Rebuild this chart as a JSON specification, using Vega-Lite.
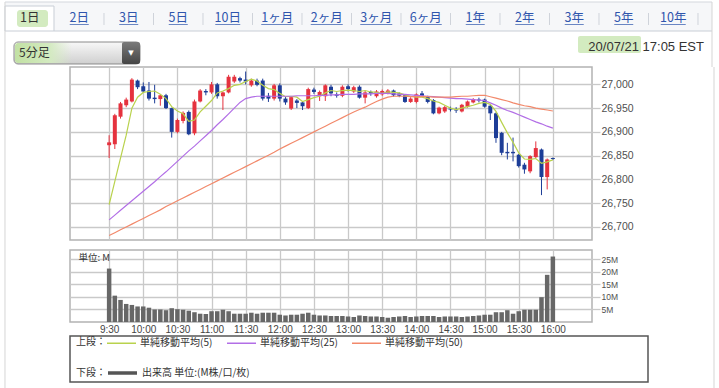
{
 "$schema": "https://vega.github.io/schema/vega-lite/v6.json",
 "padding": 0,
 "background": "#ffffff",
 "spacing": 0,
 "bounds": "flush",
 "config": {
  "view": {"stroke": null},
  "axis": {"labelFont": "Liberation Sans", "labelColor": "#444444", "gridColor": "#c9c9c9", "gridWidth": 1.3, "domain": false},
  "legend": {"padding": 0}
 },
 "resolve": {"scale": {"color": "independent"}, "legend": {"color": "independent"}},
 "datasets": {
  "tabs": [{"tab":"1日"},{"tab":"2日"},{"tab":"3日"},{"tab":"5日"},{"tab":"10日"},{"tab":"1ヶ月"},{"tab":"2ヶ月"},{"tab":"3ヶ月"},{"tab":"6ヶ月"},{"tab":"1年"},{"tab":"2年"},{"tab":"3年"},{"tab":"5年"},{"tab":"10年"}],
  "candles": [
   {"t":"2020-07-21T09:30","o":26872,"h":26893,"l":26845,"c":26878,"v":21.3,"ma5":26747,"ma25":26715,"ma50":26682},
   {"t":"2020-07-21T09:35","o":26874,"h":26938,"l":26864,"c":26935,"v":10.5,"ma5":26796,"ma25":26725,"ma50":26688},
   {"t":"2020-07-21T09:40","o":26932,"h":26963,"l":26928,"c":26960,"v":8.8,"ma5":26845,"ma25":26735,"ma50":26694},
   {"t":"2020-07-21T09:45","o":26956,"h":26972,"l":26952,"c":26968,"v":7.2,"ma5":26893,"ma25":26745,"ma50":26700},
   {"t":"2020-07-21T09:50","o":26964,"h":27013,"l":26962,"c":27010,"v":6.8,"ma5":26950,"ma25":26755,"ma50":26706},
   {"t":"2020-07-21T09:55","o":27008,"h":27010,"l":26990,"c":26994,"v":6.2,"ma5":26973,"ma25":26765,"ma50":26712},
   {"t":"2020-07-21T10:00","o":26996,"h":27004,"l":26982,"c":26985,"v":6.2,"ma5":26983,"ma25":26775,"ma50":26718},
   {"t":"2020-07-21T10:05","o":26987,"h":27005,"l":26966,"c":26970,"v":5.7,"ma5":26985,"ma25":26785,"ma50":26724},
   {"t":"2020-07-21T10:10","o":26972,"h":26999,"l":26960,"c":26969,"v":5.0,"ma5":26986,"ma25":26795,"ma50":26730},
   {"t":"2020-07-21T10:15","o":26969,"h":26979,"l":26955,"c":26977,"v":5.0,"ma5":26979,"ma25":26806,"ma50":26736},
   {"t":"2020-07-21T10:20","o":26977,"h":26980,"l":26948,"c":26950,"v":4.7,"ma5":26970,"ma25":26816,"ma50":26743},
   {"t":"2020-07-21T10:25","o":26950,"h":26951,"l":26888,"c":26900,"v":5.5,"ma5":26953,"ma25":26827,"ma50":26749},
   {"t":"2020-07-21T10:30","o":26900,"h":26928,"l":26897,"c":26925,"v":5.1,"ma5":26944,"ma25":26838,"ma50":26755},
   {"t":"2020-07-21T10:35","o":26923,"h":26943,"l":26918,"c":26940,"v":4.9,"ma5":26938,"ma25":26849,"ma50":26761},
   {"t":"2020-07-21T10:40","o":26942,"h":26945,"l":26893,"c":26895,"v":4.5,"ma5":26922,"ma25":26860,"ma50":26767},
   {"t":"2020-07-21T10:45","o":26897,"h":26968,"l":26893,"c":26964,"v":3.9,"ma5":26925,"ma25":26870,"ma50":26773},
   {"t":"2020-07-21T10:50","o":26964,"h":26990,"l":26962,"c":26987,"v":3.3,"ma5":26942,"ma25":26881,"ma50":26779},
   {"t":"2020-07-21T10:55","o":26986,"h":26990,"l":26977,"c":26983,"v":3.2,"ma5":26954,"ma25":26892,"ma50":26785},
   {"t":"2020-07-21T11:00","o":26983,"h":27005,"l":26980,"c":27000,"v":4.3,"ma5":26966,"ma25":26903,"ma50":26791},
   {"t":"2020-07-21T11:05","o":27000,"h":27003,"l":26970,"c":26975,"v":4.3,"ma5":26982,"ma25":26915,"ma50":26797},
   {"t":"2020-07-21T11:10","o":26975,"h":26985,"l":26946,"c":26983,"v":4.9,"ma5":26986,"ma25":26926,"ma50":26803},
   {"t":"2020-07-21T11:15","o":26983,"h":27020,"l":26981,"c":27016,"v":4.3,"ma5":26991,"ma25":26938,"ma50":26809},
   {"t":"2020-07-21T11:20","o":27006,"h":27020,"l":27003,"c":27016,"v":3.3,"ma5":26998,"ma25":26950,"ma50":26815},
   {"t":"2020-07-21T11:25","o":27013,"h":27016,"l":27004,"c":27008,"v":3.3,"ma5":27000,"ma25":26962,"ma50":26821},
   {"t":"2020-07-21T11:30","o":27010,"h":27027,"l":27000,"c":27006,"v":3.3,"ma5":27006,"ma25":26970,"ma50":26827},
   {"t":"2020-07-21T11:35","o":26998,"h":27012,"l":26995,"c":27008,"v":3.7,"ma5":27011,"ma25":26973,"ma50":26833},
   {"t":"2020-07-21T11:40","o":27008,"h":27012,"l":26996,"c":26999,"v":3.3,"ma5":27007,"ma25":26975,"ma50":26839},
   {"t":"2020-07-21T11:45","o":27008,"h":27012,"l":26966,"c":26970,"v":3.7,"ma5":26998,"ma25":26975,"ma50":26845},
   {"t":"2020-07-21T11:50","o":26976,"h":26982,"l":26963,"c":26970,"v":3.7,"ma5":26991,"ma25":26975,"ma50":26851},
   {"t":"2020-07-21T11:55","o":26970,"h":27001,"l":26966,"c":26998,"v":3.7,"ma5":26989,"ma25":26975,"ma50":26857},
   {"t":"2020-07-21T12:00","o":26998,"h":27002,"l":26964,"c":26970,"v":2.9,"ma5":26981,"ma25":26975,"ma50":26864},
   {"t":"2020-07-21T12:05","o":26970,"h":26974,"l":26957,"c":26962,"v":2.6,"ma5":26974,"ma25":26975,"ma50":26870},
   {"t":"2020-07-21T12:10","o":26949,"h":26975,"l":26946,"c":26973,"v":2.9,"ma5":26975,"ma25":26975,"ma50":26876},
   {"t":"2020-07-21T12:15","o":26966,"h":26969,"l":26950,"c":26961,"v":2.9,"ma5":26973,"ma25":26976,"ma50":26882},
   {"t":"2020-07-21T12:20","o":26962,"h":26965,"l":26946,"c":26954,"v":3.3,"ma5":26964,"ma25":26976,"ma50":26888},
   {"t":"2020-07-21T12:25","o":26950,"h":26993,"l":26948,"c":26990,"v":3.7,"ma5":26968,"ma25":26976,"ma50":26894},
   {"t":"2020-07-21T12:30","o":26989,"h":26993,"l":26980,"c":26984,"v":2.9,"ma5":26972,"ma25":26976,"ma50":26900},
   {"t":"2020-07-21T12:35","o":26975,"h":26987,"l":26965,"c":26984,"v":2.6,"ma5":26975,"ma25":26977,"ma50":26906},
   {"t":"2020-07-21T12:40","o":26975,"h":27000,"l":26965,"c":26998,"v":2.6,"ma5":26982,"ma25":26977,"ma50":26912},
   {"t":"2020-07-21T12:45","o":26995,"h":26999,"l":26975,"c":26981,"v":2.4,"ma5":26987,"ma25":26978,"ma50":26918},
   {"t":"2020-07-21T12:50","o":26979,"h":26983,"l":26972,"c":26976,"v":2.4,"ma5":26985,"ma25":26978,"ma50":26924},
   {"t":"2020-07-21T12:55","o":26976,"h":26998,"l":26973,"c":26995,"v":2.4,"ma5":26987,"ma25":26979,"ma50":26930},
   {"t":"2020-07-21T13:00","o":26996,"h":27000,"l":26985,"c":26990,"v":2.2,"ma5":26988,"ma25":26979,"ma50":26936},
   {"t":"2020-07-21T13:05","o":26985,"h":26997,"l":26982,"c":26994,"v":2.0,"ma5":26987,"ma25":26979,"ma50":26942},
   {"t":"2020-07-21T13:10","o":26995,"h":26998,"l":26970,"c":26972,"v":2.6,"ma5":26985,"ma25":26980,"ma50":26947},
   {"t":"2020-07-21T13:15","o":26972,"h":26986,"l":26960,"c":26983,"v":2.4,"ma5":26987,"ma25":26980,"ma50":26952},
   {"t":"2020-07-21T13:20","o":26984,"h":26987,"l":26976,"c":26981,"v":2.2,"ma5":26984,"ma25":26980,"ma50":26958},
   {"t":"2020-07-21T13:25","o":26975,"h":26988,"l":26972,"c":26985,"v":2.2,"ma5":26983,"ma25":26981,"ma50":26964},
   {"t":"2020-07-21T13:30","o":26979,"h":26989,"l":26976,"c":26986,"v":2.0,"ma5":26981,"ma25":26981,"ma50":26969},
   {"t":"2020-07-21T13:35","o":26981,"h":26990,"l":26979,"c":26987,"v":1.7,"ma5":26984,"ma25":26981,"ma50":26973},
   {"t":"2020-07-21T13:40","o":26987,"h":26989,"l":26974,"c":26977,"v":2.0,"ma5":26983,"ma25":26980,"ma50":26975},
   {"t":"2020-07-21T13:45","o":26981,"h":26983,"l":26973,"c":26976,"v":2.2,"ma5":26982,"ma25":26979,"ma50":26975},
   {"t":"2020-07-21T13:50","o":26977,"h":26979,"l":26961,"c":26963,"v":2.4,"ma5":26978,"ma25":26979,"ma50":26975},
   {"t":"2020-07-21T13:55","o":26963,"h":26973,"l":26961,"c":26970,"v":2.0,"ma5":26975,"ma25":26978,"ma50":26974},
   {"t":"2020-07-21T14:00","o":26963,"h":26981,"l":26960,"c":26979,"v":2.2,"ma5":26973,"ma25":26977,"ma50":26974},
   {"t":"2020-07-21T14:05","o":26981,"h":26986,"l":26974,"c":26976,"v":2.4,"ma5":26973,"ma25":26976,"ma50":26974},
   {"t":"2020-07-21T14:10","o":26974,"h":26976,"l":26960,"c":26963,"v":2.4,"ma5":26970,"ma25":26975,"ma50":26974},
   {"t":"2020-07-21T14:15","o":26967,"h":26969,"l":26937,"c":26939,"v":2.4,"ma5":26965,"ma25":26974,"ma50":26973},
   {"t":"2020-07-21T14:20","o":26939,"h":26953,"l":26937,"c":26951,"v":2.0,"ma5":26962,"ma25":26973,"ma50":26973},
   {"t":"2020-07-21T14:25","o":26943,"h":26955,"l":26940,"c":26952,"v":2.2,"ma5":26956,"ma25":26972,"ma50":26973},
   {"t":"2020-07-21T14:30","o":26949,"h":26953,"l":26943,"c":26947,"v":2.2,"ma5":26950,"ma25":26971,"ma50":26973},
   {"t":"2020-07-21T14:35","o":26947,"h":26952,"l":26940,"c":26945,"v":2.2,"ma5":26947,"ma25":26970,"ma50":26974},
   {"t":"2020-07-21T14:40","o":26943,"h":26959,"l":26941,"c":26957,"v":2.0,"ma5":26950,"ma25":26970,"ma50":26975},
   {"t":"2020-07-21T14:45","o":26953,"h":26966,"l":26951,"c":26964,"v":2.2,"ma5":26953,"ma25":26969,"ma50":26975},
   {"t":"2020-07-21T14:50","o":26962,"h":26971,"l":26960,"c":26969,"v":2.4,"ma5":26956,"ma25":26968,"ma50":26976},
   {"t":"2020-07-21T14:55","o":26968,"h":26972,"l":26962,"c":26966,"v":2.6,"ma5":26960,"ma25":26967,"ma50":26977},
   {"t":"2020-07-21T15:00","o":26968,"h":26970,"l":26951,"c":26953,"v":2.9,"ma5":26962,"ma25":26966,"ma50":26977},
   {"t":"2020-07-21T15:05","o":26955,"h":26957,"l":26925,"c":26939,"v":2.9,"ma5":26958,"ma25":26961,"ma50":26974},
   {"t":"2020-07-21T15:10","o":26939,"h":26941,"l":26877,"c":26887,"v":3.9,"ma5":26943,"ma25":26956,"ma50":26971},
   {"t":"2020-07-21T15:15","o":26898,"h":26900,"l":26851,"c":26856,"v":3.9,"ma5":26920,"ma25":26950,"ma50":26968},
   {"t":"2020-07-21T15:20","o":26858,"h":26877,"l":26842,"c":26855,"v":4.7,"ma5":26898,"ma25":26945,"ma50":26965},
   {"t":"2020-07-21T15:25","o":26858,"h":26888,"l":26838,"c":26855,"v":3.3,"ma5":26878,"ma25":26941,"ma50":26961},
   {"t":"2020-07-21T15:30","o":26852,"h":26854,"l":26825,"c":26828,"v":4.3,"ma5":26856,"ma25":26936,"ma50":26958},
   {"t":"2020-07-21T15:35","o":26831,"h":26835,"l":26812,"c":26821,"v":4.9,"ma5":26843,"ma25":26931,"ma50":26955},
   {"t":"2020-07-21T15:40","o":26817,"h":26851,"l":26813,"c":26849,"v":4.9,"ma5":26842,"ma25":26926,"ma50":26953},
   {"t":"2020-07-21T15:45","o":26847,"h":26880,"l":26845,"c":26866,"v":4.9,"ma5":26844,"ma25":26921,"ma50":26950},
   {"t":"2020-07-21T15:50","o":26863,"h":26865,"l":26767,"c":26805,"v":9.9,"ma5":26834,"ma25":26917,"ma50":26948},
   {"t":"2020-07-21T15:55","o":26805,"h":26844,"l":26779,"c":26842,"v":18.8,"ma5":26837,"ma25":26912,"ma50":26946},
   {"t":"2020-07-21T16:00","o":26845,"h":26846,"l":26841,"c":26843,"v":26.1,"ma5":26841,"ma25":26908,"ma50":26944}
  ]
 },
 "vconcat": [
  {
   "width": 712, "height": 67,
   "resolve": {"scale": {"x": "independent"}},
   "layer": [
    {
     "data": {"values": [{}]},
     "layer": [
      {"mark": {"type": "rect", "fill": "#f6f7f9"},
       "encoding": {"x": {"datum": 0.00702, "type": "quantitative", "scale": {"domain": [0, 1]}, "axis": null}, "x2": {"datum": 1},
                    "y": {"datum": 0.03, "type": "quantitative", "scale": {"domain": [0, 1], "reverse": true}, "axis": null}, "y2": {"datum": 0.4627}}},
      {"mark": {"type": "rect", "fill": "#ffffff", "stroke": "#c9ced6", "strokeWidth": 1},
       "encoding": {"x": {"datum": 0.00702, "type": "quantitative"}, "x2": {"datum": 0.07584},
                    "y": {"datum": 0.0896, "type": "quantitative"}, "y2": {"datum": 0.4627}}},
      {"mark": {"type": "rule", "color": "#d3d7dd"},
       "encoding": {"x": {"datum": 0.00702, "type": "quantitative"}, "x2": {"datum": 1}, "y": {"datum": 0.03, "type": "quantitative"}}},
      {"mark": {"type": "rule", "color": "#c9ced6"},
       "encoding": {"x": {"datum": 0.07584, "type": "quantitative"}, "x2": {"datum": 1}, "y": {"datum": 0.4627, "type": "quantitative"}}},
      {"mark": {"type": "rule", "color": "#d5d5d5"},
       "encoding": {"x": {"datum": 0.00702, "type": "quantitative"}, "y": {"datum": 0.03, "type": "quantitative"}, "y2": {"datum": 1}}},
      {"mark": {"type": "rule", "color": "#d5d5d5"},
       "encoding": {"x": {"datum": 1, "type": "quantitative"}, "y": {"datum": 0.03, "type": "quantitative"}, "y2": {"datum": 1}}},
      {"mark": {"type": "rect", "fill": "#d3ebc0", "cornerRadius": 3},
       "encoding": {"x": {"datum": 0.02388, "type": "quantitative"}, "x2": {"datum": 0.06742}, "y": {"datum": 0.1493, "type": "quantitative"}, "y2": {"datum": 0.403}}},
      {"mark": {"type": "rect", "cornerRadius": 4, "stroke": "#8a8a8a", "strokeWidth": 1,
                "fill": {"gradient": "linear", "x1": 0, "y1": 0, "x2": 0, "y2": 1, "stops": [{"offset": 0, "color": "#f8f8f8"}, {"offset": 1, "color": "#cfcfcf"}]}},
       "encoding": {"x": {"datum": 0.01966, "type": "quantitative"}, "x2": {"datum": 0.19663}, "y": {"datum": 0.6269, "type": "quantitative"}, "y2": {"datum": 0.9552}}},
      {"mark": {"type": "rect", "cornerRadius": 3,
                "fill": {"gradient": "linear", "x1": 0, "y1": 0, "x2": 1, "y2": 0, "stops": [{"offset": 0, "color": "#c2e1a4"}, {"offset": 0.6, "color": "#d3eac0"}, {"offset": 1, "color": "rgba(214,236,196,0)"}]}},
       "encoding": {"x": {"datum": 0.02107, "type": "quantitative"}, "x2": {"datum": 0.10112}, "y": {"datum": 0.6418, "type": "quantitative"}, "y2": {"datum": 0.9403}}},
      {"mark": {"type": "rect", "cornerRadius": 2,
                "fill": {"gradient": "linear", "x1": 0, "y1": 0, "x2": 0, "y2": 1, "stops": [{"offset": 0, "color": "#7a7a7a"}, {"offset": 1, "color": "#454545"}]}},
       "encoding": {"x": {"datum": 0.17135, "type": "quantitative"}, "x2": {"datum": 0.19663}, "y": {"datum": 0.6269, "type": "quantitative"}, "y2": {"datum": 0.9552}}},
      {"mark": {"type": "text", "text": "▼", "align": "center", "baseline": "middle", "fontSize": 7, "color": "#ffffff", "font": "DejaVu Sans"},
       "encoding": {"x": {"datum": 0.18399, "type": "quantitative"}, "y": {"datum": 0.791, "type": "quantitative"}}},
      {"mark": {"type": "text", "text": "5分足", "align": "left", "baseline": "middle", "fontSize": 12, "color": "#333333", "font": "Noto Sans CJK JP"},
       "encoding": {"x": {"datum": 0.02669, "type": "quantitative"}, "y": {"datum": 0.791, "type": "quantitative"}}},
      {"mark": {"type": "rect", "cornerRadius": 2, "fill": "#d3ebc0"},
       "encoding": {"x": {"datum": 0.8118, "type": "quantitative"}, "x2": {"datum": 0.90028}, "y": {"datum": 0.5373, "type": "quantitative"}, "y2": {"datum": 0.791}}},
      {"mark": {"type": "text", "text": "20/07/21 17:05 EST", "align": "right", "baseline": "middle", "fontSize": 13, "color": "#333333", "font": "Liberation Sans"},
       "encoding": {"x": {"datum": 0.98876, "type": "quantitative"}, "y": {"datum": 0.7015, "type": "quantitative"}}}
     ]
    },
    {
     "data": {"name": "tabs"},
     "layer": [
      {"mark": {"type": "text", "font": "Noto Sans CJK JP", "fontSize": 12.5, "baseline": "middle"},
       "encoding": {
        "x": {"field": "tab", "type": "nominal", "axis": null,
              "scale": {"type": "band", "domain": ["1日","2日","3日","5日","10日","1ヶ月","2ヶ月","3ヶ月","6ヶ月","1年","2年","3年","5年","10年"], "paddingInner": 0, "paddingOuter": 0.192, "align": 0.263}},
        "y": {"datum": 0.2687, "type": "quantitative"},
        "text": {"field": "tab"},
        "color": {"condition": {"test": "datum.tab === '1日'", "value": "#333333"}, "value": "#2f55ad"}}},
      {"transform": [{"filter": "datum.tab !== '1日'"}],
       "mark": {"type": "rule", "color": "#cfd3da"},
       "encoding": {"x": {"field": "tab", "type": "nominal", "bandPosition": 1}, "y": {"datum": 0.194, "type": "quantitative"}, "y2": {"datum": 0.373}}},
      {"transform": [{"filter": {"field": "tab", "oneOf": ["2日","3日","5日","1年","2年","3年","5年"]}}],
       "mark": {"type": "tick", "color": "#2f55ad", "thickness": 1, "size": 19},
       "encoding": {"x": {"field": "tab", "type": "nominal"}, "y": {"datum": 0.3657, "type": "quantitative"}}},
      {"transform": [{"filter": {"field": "tab", "oneOf": ["10日","10年"]}}],
       "mark": {"type": "tick", "color": "#2f55ad", "thickness": 1, "size": 25},
       "encoding": {"x": {"field": "tab", "type": "nominal"}, "y": {"datum": 0.3657, "type": "quantitative"}}},
      {"transform": [{"filter": {"field": "tab", "oneOf": ["1ヶ月","2ヶ月","3ヶ月","6ヶ月"]}}],
       "mark": {"type": "tick", "color": "#2f55ad", "thickness": 1, "size": 32},
       "encoding": {"x": {"field": "tab", "type": "nominal"}, "y": {"datum": 0.3657, "type": "quantitative"}}}
     ]
    }
   ]
  },
  {
   "spacing": 0,
   "bounds": "full",
   "resolve": {"scale": {"color": "independent"}, "legend": {"color": "independent"}},
   "hconcat": [
    {"width": 69, "height": 321, "data": {"values": [{}]},
     "mark": {"type": "rule", "color": "#d5d5d5"},
     "encoding": {"x": {"datum": 0.07246, "type": "quantitative", "scale": {"domain": [0, 1]}, "axis": null}}},
    {
     "spacing": 0,
     "bounds": "flush",
     "resolve": {"scale": {"color": "independent"}, "legend": {"color": "independent"}},
     "vconcat": [
      {
       "width": 522, "height": 173,
       "view": {"stroke": "#b3b3b3", "strokeWidth": 1.5},
       "data": {"name": "candles"},
       "encoding": {
        "x": {"field": "t", "type": "temporal",
              "scale": {"domain": [{"year":2020,"month":7,"date":21,"hours":9,"minutes":0}, {"year":2020,"month":7,"date":21,"hours":16,"minutes":30}]},
              "axis": {"title": null, "labels": false, "ticks": false, "domain": false, "grid": true,
                       "values": [{"year":2020,"month":7,"date":21,"hours":9,"minutes":30},{"year":2020,"month":7,"date":21,"hours":10,"minutes":0},{"year":2020,"month":7,"date":21,"hours":10,"minutes":30},{"year":2020,"month":7,"date":21,"hours":11,"minutes":0},{"year":2020,"month":7,"date":21,"hours":11,"minutes":30},{"year":2020,"month":7,"date":21,"hours":12,"minutes":0},{"year":2020,"month":7,"date":21,"hours":12,"minutes":30},{"year":2020,"month":7,"date":21,"hours":13,"minutes":0},{"year":2020,"month":7,"date":21,"hours":13,"minutes":30},{"year":2020,"month":7,"date":21,"hours":14,"minutes":0},{"year":2020,"month":7,"date":21,"hours":14,"minutes":30},{"year":2020,"month":7,"date":21,"hours":15,"minutes":0},{"year":2020,"month":7,"date":21,"hours":15,"minutes":30},{"year":2020,"month":7,"date":21,"hours":16,"minutes":0}]}}
       },
       "layer": [
        {"mark": {"type": "rule", "strokeWidth": 1},
         "encoding": {
          "y": {"field": "l", "type": "quantitative", "title": null,
                "scale": {"domain": [26672.6, 27036.5], "nice": false, "zero": false},
                "axis": {"title": null, "orient": "right", "values": [26700, 26750, 26800, 26850, 26900, 26950, 27000], "format": ",.0f", "labelOverlap": false, "grid": true, "ticks": true, "tickSize": 8, "tickColor": "#c9c9c9", "tickWidth": 1.3, "labelPadding": 1, "labelFontSize": 10.5, "labelColor": "#505050"}},
          "y2": {"field": "h"},
          "color": {"condition": {"test": "datum.c > datum.o", "value": "#e5323e"}, "value": "#1d3d97"}}},
        {"mark": {"type": "bar", "width": 4},
         "encoding": {
          "y": {"field": "o", "type": "quantitative", "title": null,
                "scale": {"domain": [26672.6, 27036.5], "nice": false, "zero": false},
                "axis": {"title": null, "orient": "right", "values": [26700, 26750, 26800, 26850, 26900, 26950, 27000], "format": ",.0f", "labelOverlap": false, "grid": true, "ticks": true, "tickSize": 8, "tickColor": "#c9c9c9", "tickWidth": 1.3, "labelPadding": 1, "labelFontSize": 10.5, "labelColor": "#505050"}},
          "y2": {"field": "c"},
          "color": {"condition": {"test": "datum.c > datum.o", "value": "#e5323e"}, "value": "#1d3d97"}}},
        {"transform": [{"fold": ["ma5", "ma25", "ma50"], "as": ["key", "val"]}],
         "mark": {"type": "line", "strokeWidth": 1.2},
         "encoding": {
          "y": {"field": "val", "type": "quantitative", "title": null,
                "scale": {"domain": [26672.6, 27036.5], "nice": false, "zero": false},
                "axis": {"title": null, "orient": "right", "values": [26700, 26750, 26800, 26850, 26900, 26950, 27000], "format": ",.0f", "labelOverlap": false, "grid": true, "ticks": true, "tickSize": 8, "tickColor": "#c9c9c9", "tickWidth": 1.3, "labelPadding": 1, "labelFontSize": 10.5, "labelColor": "#505050"}},
          "color": {"field": "key", "type": "nominal",
                    "scale": {"domain": ["ma5", "ma25", "ma50"], "range": ["#b9d24d", "#b26ee6", "#f2896b"]},
                    "legend": {"orient": "none", "legendX": 36, "legendY": 260.5, "direction": "horizontal", "columns": 3, "title": null,
                               "symbolType": "stroke", "symbolSize": 841, "symbolStrokeWidth": 1.5,
                               "labelFont": "Noto Sans CJK JP", "labelFontSize": 10, "labelColor": "#333333", "labelOffset": 3, "columnPadding": 11, "labelLimit": 300,
                               "labelExpr": "datum.label === 'ma5' ? '単純移動平均(5)' : datum.label === 'ma25' ? '単純移動平均(25)' : '単純移動平均(50)'"}}}}
       ]
      },
      {"width": 1, "height": 10, "data": {"values": []}, "mark": "point"},
      {
       "width": 522, "height": 72,
       "view": {"stroke": "#b3b3b3", "strokeWidth": 1.5},
       "layer": [
        {"data": {"name": "candles"},
         "transform": [{"fold": ["v"], "as": ["kind", "vol"]}],
         "mark": {"type": "bar", "width": 4.5},
         "encoding": {
          "x": {"field": "t", "type": "temporal",
                "scale": {"domain": [{"year":2020,"month":7,"date":21,"hours":9,"minutes":0}, {"year":2020,"month":7,"date":21,"hours":16,"minutes":30}]},
                "axis": {"title": null, "format": "%-H:%M", "ticks": false, "domain": false, "grid": true, "labelPadding": 2, "labelFontSize": 10, "labelColor": "#444444", "labelFlush": false, "labelOverlap": false,
                         "values": [{"year":2020,"month":7,"date":21,"hours":9,"minutes":30},{"year":2020,"month":7,"date":21,"hours":10,"minutes":0},{"year":2020,"month":7,"date":21,"hours":10,"minutes":30},{"year":2020,"month":7,"date":21,"hours":11,"minutes":0},{"year":2020,"month":7,"date":21,"hours":11,"minutes":30},{"year":2020,"month":7,"date":21,"hours":12,"minutes":0},{"year":2020,"month":7,"date":21,"hours":12,"minutes":30},{"year":2020,"month":7,"date":21,"hours":13,"minutes":0},{"year":2020,"month":7,"date":21,"hours":13,"minutes":30},{"year":2020,"month":7,"date":21,"hours":14,"minutes":0},{"year":2020,"month":7,"date":21,"hours":14,"minutes":30},{"year":2020,"month":7,"date":21,"hours":15,"minutes":0},{"year":2020,"month":7,"date":21,"hours":15,"minutes":30},{"year":2020,"month":7,"date":21,"hours":16,"minutes":0}]}},
          "y": {"field": "vol", "type": "quantitative",
                "scale": {"domain": [0, 28.7], "nice": false},
                "axis": {"title": null, "orient": "right", "values": [5, 10, 15, 20, 25], "labelExpr": "datum.value + 'M'", "labelOverlap": false, "grid": true, "ticks": true, "tickSize": 8, "tickColor": "#c9c9c9", "tickWidth": 1.3, "labelPadding": 1, "labelFontSize": 8.5, "labelColor": "#505050"}},
          "color": {"field": "kind", "type": "nominal", "scale": {"range": ["#676767"]},
                    "legend": {"orient": "none", "legendX": 36, "legendY": 106.5, "direction": "horizontal", "title": null,
                               "symbolType": "stroke", "symbolSize": 841, "symbolStrokeWidth": 3.5, "symbolStrokeColor": "#555555",
                               "labelFont": "Noto Sans CJK JP", "labelFontSize": 10, "labelColor": "#333333", "labelOffset": 3, "labelLimit": 300,
                               "labelExpr": "'出来高 単位:(M株/口/枚)'"}}}},
        {"data": {"values": [{}]},
         "mark": {"type": "text", "text": "単位: M", "align": "left", "baseline": "middle", "font": "Noto Sans CJK JP", "fontSize": 9.5, "color": "#333333"},
         "encoding": {
          "x": {"datum": {"year":2020,"month":7,"date":21,"hours":9,"minutes":3}, "type": "temporal"},
          "y": {"datum": 25.6, "type": "quantitative",
                "axis": {"title": null, "orient": "right", "values": [5, 10, 15, 20, 25], "labelExpr": "datum.value + 'M'", "labelOverlap": false, "grid": true, "ticks": true, "tickSize": 8, "tickColor": "#c9c9c9", "tickWidth": 1.3, "labelPadding": 1, "labelFontSize": 8.5, "labelColor": "#505050"}}}}
       ]
      },
      {"width": 1, "height": 14, "data": {"values": []}, "mark": "point"},
      {"width": 578, "height": 46, "view": {"stroke": "#555555", "strokeWidth": 1.5}, "data": {"values": [{}]},
       "layer": [
        {"mark": {"type": "text", "text": "上段：", "align": "left", "baseline": "middle", "font": "Noto Sans CJK JP", "fontSize": 10, "color": "#333333"},
         "encoding": {"x": {"datum": 0.0104, "type": "quantitative", "scale": {"domain": [0, 1]}, "axis": null},
                      "y": {"datum": 0.1304, "type": "quantitative", "scale": {"domain": [0, 1], "reverse": true}, "axis": null}}},
        {"mark": {"type": "text", "text": "下段：", "align": "left", "baseline": "middle", "font": "Noto Sans CJK JP", "fontSize": 10, "color": "#333333"},
         "encoding": {"x": {"datum": 0.0104, "type": "quantitative"}, "y": {"datum": 0.8043, "type": "quantitative"}}}
       ]}
     ]
    },
    {"width": 65, "height": 321, "data": {"values": [{}]},
     "mark": {"type": "rule", "color": "#d5d5d5"},
     "encoding": {"x": {"datum": 1, "type": "quantitative", "scale": {"domain": [0, 1]}, "axis": null}}}
   ]
  }
 ]
}
